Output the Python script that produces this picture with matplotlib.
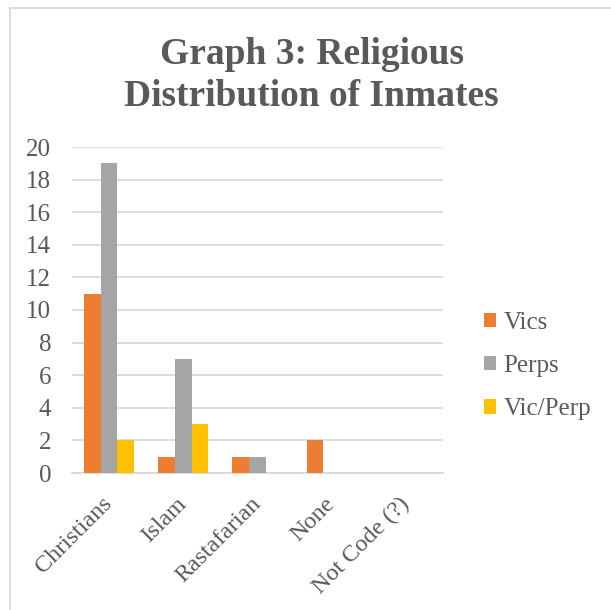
import matplotlib
matplotlib.use("Agg")
import matplotlib.pyplot as plt
from matplotlib.lines import Line2D
import numpy as np

categories = ["Christians", "Islam", "Rastafarian", "None", "Not Code (?)"]
vics = [11, 1, 1, 2, 0]
perps = [19, 7, 1, 0, 0]
vic_perp = [2, 3, 0, 0, 0]
series_names = ["Vics", "Perps", "Vic/Perp"]
colors = ["#ED7D31", "#A5A5A5", "#FFC000"]
yticks = list(range(0, 21, 2))

plt.rcParams["font.family"] = ["Liberation Serif", "DejaVu Serif"]
text_color = "#595959"
grid_color = "#D9D9D9"

fig = plt.figure(figsize=(6.11, 6.10), dpi=100)
ax = fig.add_axes([72 / 611, 1 - 473 / 610, (443 - 72) / 611, (473 - 147) / 610])

x = np.arange(len(categories))
width = 0.225
for i, (vals, name, c) in enumerate(zip([vics, perps, vic_perp], series_names, colors)):
    ax.bar(x + (i - 1) * width, vals, width, color=c, label=name, zorder=3)

ax.set_xlim(-0.5, len(categories) - 0.5)
ax.set_ylim(0, 20)
ax.set_yticks(yticks)
ax.set_yticklabels([str(t) for t in yticks], fontsize=18, color=text_color)
ax.yaxis.grid(True, color=grid_color, linewidth=1.3, zorder=0)
ax.tick_params(axis="both", length=0)
ax.tick_params(axis="y", pad=15)
for s in ["top", "right", "left"]:
    ax.spines[s].set_visible(False)
ax.spines["bottom"].set_color(grid_color)
ax.spines["bottom"].set_linewidth(1.3)

ax.set_xticks(x)
ax.set_xticklabels(categories, rotation=45, ha="right", va="center",
                   rotation_mode="anchor", fontsize=17.5, color=text_color)
ax.tick_params(axis="x", pad=20)

leg = ax.legend(loc="center left", bbox_to_anchor=(1.049, 0.328), frameon=False,
                fontsize=18, labelcolor=text_color, handlelength=0.5,
                handleheight=0.5, handletextpad=0.3, labelspacing=0.85)

fig.text(0.51, 0.876, "Graph 3: Religious\nDistribution of Inmates", ha="center",
         va="center", fontsize=27, fontweight="bold", color=text_color,
         linespacing=1.25)

# chart frame
fig.add_artist(Line2D([10 / 611, 10 / 611], [0, 1 - 8 / 610], transform=fig.transFigure,
                      color=grid_color, linewidth=1.3))
fig.add_artist(Line2D([10 / 611, 1], [1 - 8 / 610, 1 - 8 / 610], transform=fig.transFigure,
                      color=grid_color, linewidth=1.3))

fig.savefig("out.png", dpi=100, facecolor="white")
